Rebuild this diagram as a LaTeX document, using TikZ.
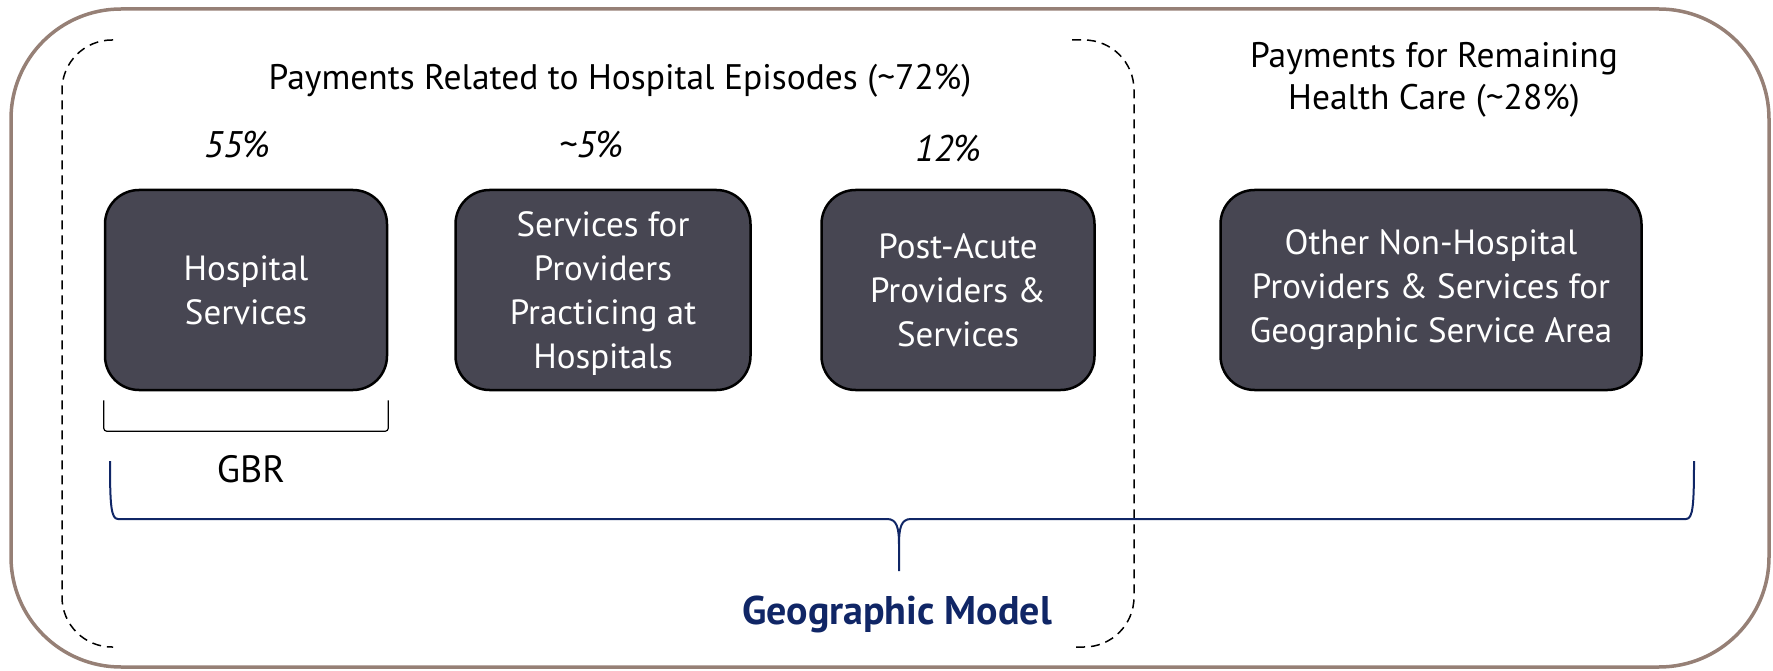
\documentclass[tikz,border=0pt]{standalone}
\usepackage{fontspec}
\setmainfont{PT Sans}
\usetikzlibrary{positioning}
\definecolor{boxgray}{RGB}{71,70,82}
\definecolor{framebrown}{RGB}{150,128,118}
\definecolor{geonavy}{RGB}{16,38,102}
\tikzset{
    BX/.style ={rectangle, rounded corners=34pt, draw=black, line width=2.5pt, fill=boxgray, text=white, align=center, minimum height=200pt, font=\fontsize{35}{44}\selectfont},
    PC/.style ={font=\fontsize{37}{40}\selectfont\itshape},
    HD/.style ={align=center, font=\fontsize{35.5}{42}\selectfont},
    DS/.style ={dash pattern=on 9pt off 6pt, line width=1.5pt, rounded corners=50pt},
    BR/.style ={geonavy, line width=2pt}}

\begin{document}
\begin{tikzpicture}[x=1pt,y=-1pt]
        \useasboundingbox (0,0) rectangle (1773,671);
        \draw[framebrown, line width=3.5pt, rounded corners=110pt] (11,9) rectangle (1769,667);
        \draw[DS] (113,40) -- (62,40) -- (62,647) -- (113,647);
        \draw[DS] (1072,40) -- (1134,40) -- (1134,647) -- (1072,647);
        \node[HD] (t1) at (620,81) {Payments Related to Hospital Episodes (\textasciitilde72\%)};
        \node[HD] (t2) at (1434,80) {Payments for Remaining\\Health Care (\textasciitilde28\%)};
        \node[BX, minimum width=282pt] (1) at (246,290) {Hospital\\Services};
        \node[BX, minimum width=295pt] (2) at (603,290) {\rule{0pt}{32pt}Services for\\Providers\\Practicing at\\Hospitals};
        \node[BX, minimum width=273pt] (3) at (958,290) {Post-Acute\\Providers \&\\Services};
        \node[BX, minimum width=421pt] (4) at (1431,290) {Other Non-Hospital\\Providers \& Services for\\Geographic Service Area};
        \node[PC] (p1) at (237,145) {55\%};
        \node[PC] (p2) at (591,145) {\textasciitilde5\%};
        \node[PC] (p3) at (948,149) {12\%};
        \draw[line width=1.2pt, rounded corners=3pt] ([yshift=-9pt]1.south west) -- ([yshift=-40pt]1.south west) -- ([yshift=-40pt]1.south east) -- ([yshift=-9pt]1.south east);
        \node[HD, font=\fontsize{38}{42}\selectfont] (g) at (251,469) {GBR};
        \coordinate (bl) at (110,461);
        \coordinate (br) at (1694,461);
        \coordinate (bt) at (899,571);
        \draw[BR] (bl) .. controls (110,505) and (111,519) .. (118,519) -- (887,519)
            .. controls (897,519) and (899,528) .. (899,545) -- (bt) -- (899,545)
            .. controls (899,528) and (901,519) .. (911,519) -- (1686,519)
            .. controls (1693,519) and (1694,505) .. (br);
        \node[HD, geonavy, font=\fontsize{40}{44}\selectfont\bfseries] (m) at (897,614) {Geographic Model};
    \end{tikzpicture}
\end{document}
